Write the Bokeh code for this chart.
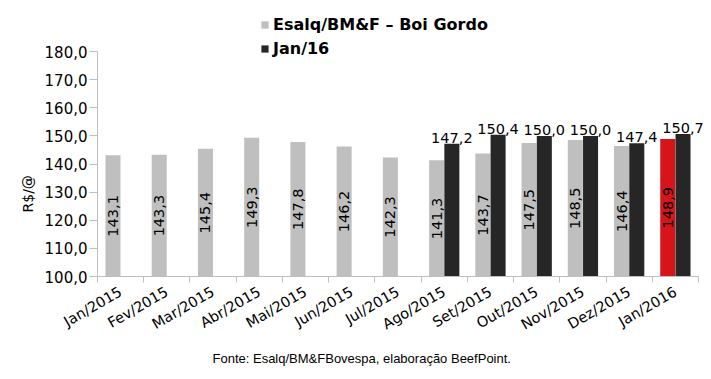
import math
from bokeh.plotting import figure
from bokeh.core.properties import value
from bokeh.models import (ColumnDataSource, Range1d, FixedTicker, CustomJSTickFormatter,
                          Legend, LegendItem, LinearAxis, Title)
from bokeh.embed import file_html
from bokeh.resources import INLINE

months = ["Jan/2015", "Fev/2015", "Mar/2015", "Abr/2015", "Mai/2015", "Jun/2015", "Jul/2015",
          "Ago/2015", "Set/2015", "Out/2015", "Nov/2015", "Dez/2015", "Jan/2016"]
boi_gordo = [143.1, 143.3, 145.4, 149.3, 147.8, 146.2, 142.3, 141.3, 143.7, 147.5, 148.5, 146.4, 148.9]
jan16_months = ["Ago/2015", "Set/2015", "Out/2015", "Nov/2015", "Dez/2015", "Jan/2016"]
jan16 = [147.2, 150.4, 150.0, 150.0, 147.4, 150.7]
y_ticks = [100, 110, 120, 130, 140, 150, 160, 170, 180]

GRAY = "#BFBFBF"
BLACK = "#262626"
RED = "#D7141A"
FONT = "DejaVu Sans"

def fmt(v):
    return f"{v:.1f}".replace(".", ",")

idx = {m: i for i, m in enumerate(months)}
off = 0.165
bw = 0.325
n = len(months)

gx = [i + 0.5 - off for i in range(n)]
gcol = [GRAY] * (n - 1) + [RED]
gsrc = ColumnDataSource(dict(x=gx, top=boi_gordo, color=gcol,
                             ly=[(100 + v) / 2 for v in boi_gordo],
                             lab=[fmt(v) for v in boi_gordo]))
bx = [idx[m] + 0.5 + off for m in jan16_months]
bsrc = ColumnDataSource(dict(x=bx, top=jan16, lab=[fmt(v) for v in jan16]))

# frame spans from the canvas top down to the x axis and to the right edge;
# axes are bounded to the real data extent
y_min, y_max = y_ticks[0], y_ticks[-1]
plot_px = 225.0
top_px = 51.0
y_top = y_max + top_px * (y_max - y_min) / plot_px
plot_w = 601.0
right_px = 13.0
x_right = n + right_px * n / plot_w

p = figure(width=711, height=379, output_backend="svg", toolbar_location=None,
           x_range=Range1d(0, x_right), y_range=Range1d(y_min, y_top),
           min_border_left=97, min_border_right=0, min_border_top=0, min_border_bottom=103,
           x_axis_type=None, y_axis_type=None)
p.outline_line_color = None
p.xgrid.visible = False
p.ygrid.visible = False

g = p.vbar(x="x", top="top", bottom=y_min, width=bw, source=gsrc, fill_color="color", line_color=None)
b = p.vbar(x="x", top="top", bottom=y_min, width=bw, source=bsrc, fill_color=BLACK, line_color=None)

p.text(x="x", y="ly", text="lab", source=gsrc, angle=math.pi / 2, text_align="center",
       text_baseline="middle", text_font_size="14.5px", text_color="black", text_font=value(FONT))
p.text(x="x", y="top", text="lab", source=bsrc, text_align="center", y_offset=-6,
       text_baseline="alphabetic", text_font_size="14.5px", text_color="black", text_font=value(FONT))

# x axis
xaxis = LinearAxis()
xaxis.bounds = (0, n)
xaxis.ticker = FixedTicker(ticks=[i + 0.5 for i in range(n)], minor_ticks=list(range(n + 1)))
xaxis.major_label_overrides = {i + 0.5: m for i, m in enumerate(months)}
xaxis.major_label_orientation = math.pi / 6
xaxis.major_tick_out = 0
xaxis.major_tick_in = 0
xaxis.minor_tick_out = 6
xaxis.minor_tick_in = 0
xaxis.minor_tick_line_color = GRAY
xaxis.axis_line_color = GRAY
xaxis.major_label_text_font = FONT
xaxis.major_label_text_font_size = "14.5px"
xaxis.major_label_text_color = "black"
xaxis.major_label_standoff = 8
p.add_layout(xaxis, "below")

yaxis = LinearAxis()
yaxis.ticker = FixedTicker(ticks=y_ticks, minor_ticks=[])
yaxis.bounds = (y_min, y_max)
yaxis.formatter = CustomJSTickFormatter(code="return tick.toFixed(1).replace('.', ',');")
yaxis.major_tick_out = 8
yaxis.major_tick_in = 0
yaxis.major_tick_line_color = GRAY
yaxis.axis_line_color = GRAY
yaxis.major_label_text_font = FONT
yaxis.major_label_text_font_size = "15px"
yaxis.major_label_text_color = "black"
yaxis.major_label_standoff = 2
p.add_layout(yaxis, "left")

legend = Legend(items=[LegendItem(label="Esalq/BM&F – Boi Gordo", renderers=[g], index=0),
                       LegendItem(label="Jan/16", renderers=[b])],
                location=(163, 218), orientation="vertical",
                label_text_font=FONT, label_text_font_style="bold", label_text_font_size="16px",
                label_text_color="black",
                border_line_color=None, background_fill_alpha=0, padding=0, margin=0, spacing=4,
                glyph_width=9, glyph_height=9, label_height=20, label_standoff=4)
p.add_layout(legend, "center")

ylab = Title(text="R$/@", align="left", offset=64, standoff=12,
             text_font=FONT, text_font_size="14px", text_font_style="normal", text_color="black")
p.add_layout(ylab, "left")

foot = Title(text="Fonte: Esalq/BM&FBovespa, elaboração BeefPoint.", align="left", offset=115,
             standoff=12, text_font="Liberation Sans", text_font_size="13px",
             text_font_style="normal", text_color="black")
p.add_layout(foot, "below")

open("out.html", "w").write(file_html(p, INLINE))
